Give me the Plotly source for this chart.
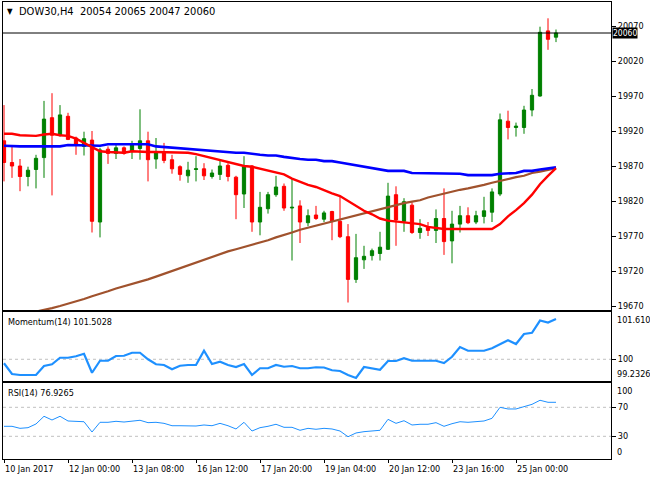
import plotly.graph_objects as go

W, H = 650, 480

# ---------------- data ----------------
bars = list(range(70))
opens = [19906, 19875, 19870, 19855, 19865, 19882, 19939, 19914, 19941, 19910,
         19898, 19907, 19790, 19894, 19888, 19896, 19891, 19895, 19906, 19880,
         19890, 19879, 19869, 19856, 19865, 19866, 19855, 19858, 19871, 19854,
         19830, 19870, 19790, 19809, 19829, 19841, 19810, 19813, 19789, 19800,
         19794, 19805, 19791, 19769, 19708, 19736, 19742, 19745, 19751, 19829,
         19791, 19814, 19775, 19782, 19778, 19795, 19763, 19787, 19799, 19790,
         19798, 19804, 19830, 19934, 19925, 19925, 19950, 19970, 20063, 20054]
highs = [19957, 19898, 19880, 19869, 19886, 19963, 19974, 19957, 19946, 19912,
         19919, 19920, 19896, 19898, 19900, 19898, 19906, 19951, 19919, 19910,
         19903, 19886, 19871, 19876, 19884, 19874, 19865, 19878, 19874, 19856,
         19884, 19871, 19833, 19833, 19856, 19845, 19852, 19821, 19808, 19813,
         19806, 19806, 19826, 19787, 19773, 19756, 19752, 19776, 19846, 19841,
         19824, 19818, 19794, 19790, 19808, 19838, 19806, 19813, 19811, 19806,
         19826, 19838, 19945, 19949, 19932, 19956, 19980, 20069, 20081, 20065]
lows = [19848, 19853, 19834, 19841, 19838, 19853, 19828, 19912, 19907, 19886,
        19885, 19775, 19768, 19873, 19880, 19886, 19880, 19879, 19848, 19866,
        19874, 19859, 19849, 19846, 19848, 19850, 19852, 19850, 19848, 19794,
        19810, 19776, 19771, 19802, 19826, 19806, 19735, 19760, 19784, 19793,
        19790, 19764, 19767, 19675, 19703, 19723, 19735, 19735, 19750, 19756,
        19776, 19773, 19766, 19770, 19760, 19743, 19731, 19775, 19787, 19787,
        19788, 19790, 19827, 19908, 19912, 19916, 19941, 19969, 20036, 20047]
closes = [19875, 19870, 19855, 19864, 19881, 19937, 19914, 19943, 19908, 19901,
          19909, 19791, 19893, 19888, 19896, 19888, 19900, 19906, 19879, 19890,
          19878, 19866, 19858, 19864, 19866, 19856, 19860, 19870, 19855, 19829,
          19869, 19790, 19811, 19829, 19840, 19810, 19811, 19790, 19799, 19795,
          19803, 19791, 19769, 19708, 19739, 19741, 19749, 19754, 19827, 19793,
          19819, 19775, 19781, 19778, 19795, 19762, 19787, 19799, 19789, 19799,
          19806, 19833, 19936, 19925, 19927, 19950, 19971, 20061, 20051, 20060]

ma_red = [19916, 19916, 19914, 19913, 19913, 19915, 19916, 19914, 19913, 19909,
          19903, 19896, 19891, 19890, 19889, 19889, 19891, 19890, 19890, 19890,
          19890, 19890, 19890, 19889, 19887, 19884, 19881, 19878, 19875, 19872,
          19870, 19869, 19866, 19864, 19861, 19858, 19852, 19847, 19843, 19840,
          19835, 19831, 19827, 19820, 19813, 19806, 19801, 19795, 19792, 19791,
          19790, 19789, 19787, 19783, 19781, 19780, 19780, 19780, 19780, 19780,
          19780, 19780, 19787, 19798, 19807, 19817, 19829, 19844, 19856, 19867]
ma_blue = [19899, 19898, 19898, 19898, 19898, 19898, 19898, 19898, 19900, 19900,
           19900, 19899, 19899, 19901, 19901, 19901, 19901, 19901, 19901, 19898,
           19897, 19897, 19896, 19895, 19894, 19892, 19892, 19891, 19890, 19889,
           19889, 19887, 19886, 19885, 19885, 19883, 19881, 19880, 19879, 19879,
           19877, 19877, 19875, 19873, 19870, 19868, 19867, 19865, 19863, 19863,
           19863, 19860, 19860, 19860, 19859, 19859, 19859, 19859, 19857, 19857,
           19857, 19857, 19859, 19860, 19860, 19863, 19863, 19865, 19866, 19868]
ma_brown = [19645, 19650, 19655, 19659, 19662, 19664, 19667, 19670, 19673, 19676,
            19680, 19684, 19687, 19691, 19695, 19698, 19702, 19705, 19708, 19712,
            19716, 19720, 19724, 19728, 19732, 19737, 19740, 19744, 19748, 19751,
            19754, 19757, 19761, 19764, 19768, 19771, 19775, 19779, 19782, 19785,
            19788, 19791, 19794, 19797, 19800, 19803, 19806, 19809, 19812, 19815,
            19817, 19819, 19821, 19825, 19828, 19831, 19834, 19836, 19838, 19840,
            19843, 19846, 19849, 19852, 19854, 19856, 19860, 19862, 19865, 19867]

momentum = [99.84, 99.41, 99.37, 99.37, 99.37, 99.73, 99.80, 100.06, 100.06, 100.12,
            100.22, 99.46, 99.94, 99.94, 100.13, 100.14, 100.26, 100.26, 100.00, 99.80,
            99.77, 99.60, 99.74, 99.77, 99.77, 100.34, 99.81, 99.90, 99.77, 99.69,
            99.81, 99.37, 99.64, 99.64, 99.77, 99.70, 99.73, 99.64, 99.64, 99.68,
            99.67, 99.56, 99.53, 99.37, 99.25, 99.69, 99.64, 99.58, 99.93, 99.93,
            100.04, 99.94, 99.94, 99.94, 99.94, 99.85, 100.10, 100.49, 100.34, 100.34,
            100.34, 100.44, 100.60, 100.76, 100.61, 101.01, 101.06, 101.55, 101.47, 101.61]
rsi = [43.8, 43.8, 41.0, 41.9, 47.0, 57.6, 52.5, 57.6, 51.1, 50.1,
       50.1, 35.9, 49.3, 49.3, 50.7, 49.7, 50.7, 52.1, 48.8, 49.3,
       47.9, 44.6, 44.6, 44.6, 44.2, 45.6, 44.6, 47.9, 44.6, 40.1,
       49.3, 37.3, 41.9, 43.8, 46.6, 42.4, 42.4, 38.3, 41.0, 39.7,
       41.0, 40.1, 37.3, 29.4, 34.6, 36.4, 37.3, 38.3, 53.4, 47.9,
       51.5, 45.6, 46.6, 46.6, 48.8, 43.8, 47.4, 50.1, 49.3, 50.1,
       51.1, 54.8, 70.0, 67.7, 67.7, 70.9, 74.1, 79.7, 76.9, 76.9]

price_ticks = [19670, 19720, 19770, 19820, 19870, 19920, 19970, 20020, 20070]
xtick_bars = [0, 8, 16, 24, 32, 40, 48, 56, 64]
xtick_labels = ["10 Jan 2017", "12 Jan 00:00", "13 Jan 08:00", "16 Jan 12:00",
                "17 Jan 20:00", "19 Jan 04:00", "20 Jan 12:00", "23 Jan 16:00",
                "25 Jan 00:00"]
last_price = 20060
title_text = "DOW30,H4\u00a0\u00a020054 20065 20047 20060"
mom_title = "Momentum(14) 101.5028"
rsi_title = "RSI(14) 76.9265"
mom_max_label, mom_min_label, mom_level = "101.6109", "99.2326", 100
rsi_levels = [70, 30]

# ---------------- helpers ----------------
def px_x(p):
    return p / W

def px_y(p):
    return 1 - p / H

FONT = "DejaVu Sans Condensed, DejaVu Sans, sans-serif"
FS = 9
GREEN = "#008000"
RED = "#FF0000"
BLUE = "#0000FF"
BROWN = "#A0522D"
DODGER = "#1E90FF"
LEVEL = "#C0C0C0"

XDOM = [px_x(3), px_x(611)]
XRANGE = [-0.125, 75.875]

fig = go.Figure()

fig.add_trace(go.Candlestick(
    x=bars, open=opens, high=highs, low=lows, close=closes,
    increasing=dict(line=dict(color=GREEN, width=1), fillcolor=GREEN),
    decreasing=dict(line=dict(color=RED, width=1), fillcolor=RED),
    whiskerwidth=0, xaxis="x", yaxis="y", hoverinfo="skip"))
fig.add_trace(go.Scatter(x=bars, y=ma_brown, mode="lines",
                         line=dict(color=BROWN, width=2.2), xaxis="x", yaxis="y"))
fig.add_trace(go.Scatter(x=bars, y=ma_blue, mode="lines",
                         line=dict(color=BLUE, width=2.6), xaxis="x", yaxis="y"))
fig.add_trace(go.Scatter(x=bars, y=ma_red, mode="lines",
                         line=dict(color=RED, width=2.4), xaxis="x", yaxis="y"))
fig.add_trace(go.Scatter(x=bars, y=momentum, mode="lines",
                         line=dict(color=DODGER, width=2.2), xaxis="x2", yaxis="y2"))
fig.add_trace(go.Scatter(x=bars, y=rsi, mode="lines",
                         line=dict(color=DODGER, width=1), xaxis="x3", yaxis="y3"))

axis_common = dict(showgrid=False, zeroline=False, showline=True, mirror=True,
                   linecolor="black", linewidth=1)

fig.update_layout(
    width=W, height=H, margin=dict(l=0, r=0, t=0, b=0),
    paper_bgcolor="white", plot_bgcolor="white",
    showlegend=False, hovermode=False, boxgap=0.42,
    font=dict(family=FONT, size=FS, color="black"),
    xaxis=dict(domain=XDOM, range=XRANGE, anchor="y", showticklabels=False,
               ticks="", rangeslider=dict(visible=False), **axis_common),
    xaxis2=dict(domain=XDOM, range=XRANGE, anchor="y2", showticklabels=False,
                ticks="", matches="x", **axis_common),
    xaxis3=dict(domain=XDOM, range=XRANGE, anchor="y3", showticklabels=False,
                ticks="outside", ticklen=3, tickcolor="black",
                tickvals=xtick_bars, matches="x", **axis_common),
    yaxis=dict(domain=[px_y(310), px_y(2)], range=[19664.29, 20104.29],
               side="right", tickvals=price_ticks, tickformat="d", ticks="outside", ticklen=4,
               tickcolor="black", tickfont=dict(family=FONT, size=FS), **axis_common),
    yaxis2=dict(domain=[px_y(381), px_y(312.3)], range=[99.13, 101.88],
                side="right", tickvals=[mom_level], tickformat="d", ticks="outside", ticklen=4,
                tickcolor="black", tickfont=dict(family=FONT, size=FS), **axis_common),
    yaxis3=dict(domain=[px_y(459), px_y(383.3)], range=[-1.3, 103.1],
                side="right", tickvals=rsi_levels, tickformat="d", ticks="outside", ticklen=4,
                tickcolor="black", tickfont=dict(family=FONT, size=FS), **axis_common),
)

shapes = []
shapes.append(dict(type="line", xref="paper", yref="y2", x0=XDOM[0], x1=XDOM[1],
                   y0=mom_level, y1=mom_level, line=dict(color=LEVEL, width=1, dash="3px,3px"),
                   layer="below"))
for lv in rsi_levels:
    shapes.append(dict(type="line", xref="paper", yref="y3", x0=XDOM[0], x1=XDOM[1],
                       y0=lv, y1=lv, line=dict(color=LEVEL, width=1, dash="3px,3px"),
                       layer="below"))
shapes.append(dict(type="line", xref="paper", yref="y", x0=XDOM[0], x1=XDOM[1],
                   y0=last_price, y1=last_price, line=dict(color="black", width=1)))
fig.update_layout(shapes=shapes)

ann = []
ann.append(dict(text="\u25bc", xref="paper", yref="paper", x=px_x(5), y=px_y(11),
                xanchor="left", yanchor="middle", showarrow=False,
                font=dict(size=8, color="black")))
ann.append(dict(text=title_text, xref="paper", yref="paper", x=px_x(17), y=px_y(11),
                xanchor="left", yanchor="middle", showarrow=False,
                font=dict(size=11, color="black")))
ann.append(dict(text=mom_title, xref="paper", yref="paper", x=px_x(6), y=px_y(321.5),
                xanchor="left", yanchor="middle", showarrow=False,
                font=dict(size=FS, color="black")))
ann.append(dict(text=rsi_title, xref="paper", yref="paper", x=px_x(6), y=px_y(392.5),
                xanchor="left", yanchor="middle", showarrow=False,
                font=dict(size=FS, color="black")))
for txt, ypx in [(mom_max_label, 319.7), (mom_min_label, 374.3), ("100", 390.7), ("0", 452)]:
    ann.append(dict(text=txt, xref="paper", yref="paper", x=px_x(615), y=px_y(ypx),
                    xanchor="left", yanchor="middle", showarrow=False,
                    font=dict(size=FS, color="black")))
ann.append(dict(text=str(last_price), xref="paper", yref="y", x=px_x(612), y=last_price,
                xanchor="left", yanchor="middle", showarrow=False, bgcolor="black",
                borderpad=0, font=dict(size=8.5, color="white")))
for b, lab in zip(xtick_bars, xtick_labels):
    ann.append(dict(text=lab, xref="x3", yref="paper", x=b - 0.1, y=px_y(469),
                    xanchor="left", yanchor="middle", showarrow=False,
                    font=dict(size=FS, color="black")))
fig.update_layout(annotations=ann)

fig.write_html("out.html")
